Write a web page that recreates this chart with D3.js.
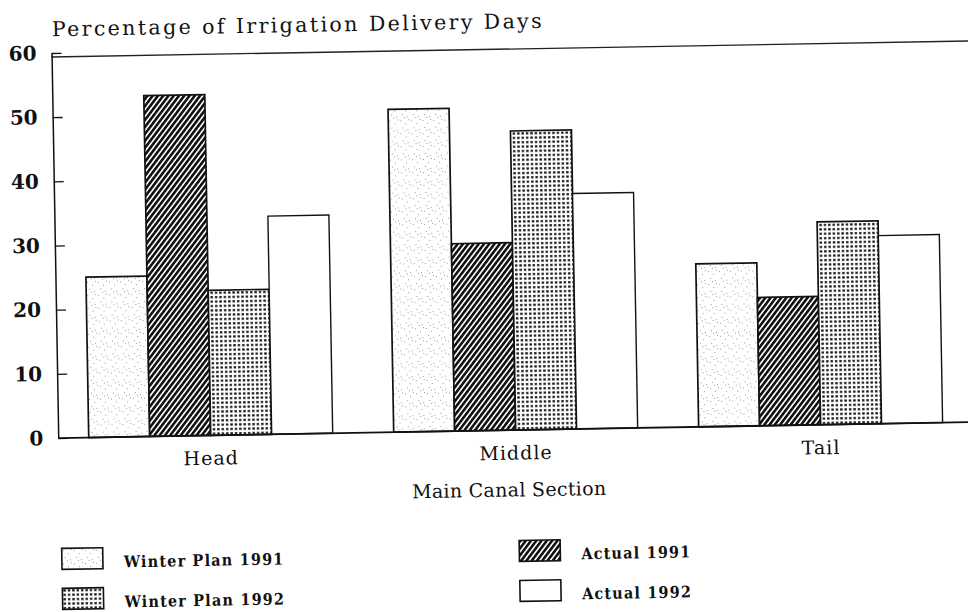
<!DOCTYPE html>
<html>
<head>
<meta charset="utf-8">
<script src="https://cdn.jsdelivr.net/npm/d3@7"></script>
<style>
    body { margin: 0; background: #fff; }
    #chart { width: 968px; height: 612px; overflow: hidden; }
</style>
</head>
<body>
<div id="chart"></div>
<script>

// values (percent of delivery days)
const sections = ["Head", "Middle", "Tail"];
const seriesNames = ["Winter Plan 1991", "Actual 1991", "Winter Plan 1992", "Actual 1992"];
const winterPlan1991 = [25.0, 50.3, 25.4];
const actual1991 = [53.1, 29.2, 20.0];
const winterPlan1992 = [22.6, 46.6, 31.6];
const actual1992 = [34.0, 36.7, 29.3];
const yTicks = [0, 10, 20, 30, 40, 50, 60];

const titleText = "Percentage of Irrigation Delivery Days";
const xTitleText = "Main Canal Section";


class deliveryChart {

    constructor(opts) {
        this.element = opts.element;
        this.series = opts.series;
        this.update();
    }

    _setDimensions() {
        this.width = 968;
        this.height = 612;

        // plot frame before the whole sheet is tilted like the scan
        this.margin = {
            top: 45.5,
            left: 56,
            right: 971,
            bottom: 430.6
        };
    }

    update() {
        this._setDimensions();
        this._setScales();
        this.draw();
    }

    _setScales() {
        this.yScale = d3.scaleLinear()
            .domain([0, 60])
            .range([this.margin.bottom, this.margin.top]);

        this.xScale = d3.scaleBand()
            .domain(sections)
            .range([this.margin.left, this.margin.right])
            .paddingInner(0.2)
            .paddingOuter(0.1);

        this.xSeries = d3.scaleBand()
            .domain(seriesNames)
            .range([0, this.xScale.bandwidth()]);

        this.yAxis = d3.axisLeft(this.yScale)
            .tickValues(yTicks)
            .tickSizeInner(-10)
            .tickSizeOuter(0)
            .tickPadding(15)
            .tickFormat(d3.format("d"));

        this.xAxis = d3.axisBottom(this.xScale)
            .tickSize(0)
            .tickPadding(16);
    }

    _addPatterns(defs) {
        // light stipple
        let stipple = defs.append("pattern")
            .attr("id", "pat-wp91")
            .attr("patternUnits", "userSpaceOnUse")
            .attr("width", 11).attr("height", 13);
        stipple.append("rect").attr("width", 11).attr("height", 13).attr("fill", "#fff");
        [[1, 2], [6, 5], [9, 1], [3, 9], [8, 11], [5, 12]].forEach(p => {
            stipple.append("rect")
                .attr("x", p[0]).attr("y", p[1])
                .attr("width", 1).attr("height", 1)
                .attr("fill", "#9a9a9a");
        });

        // dense diagonal hatch
        let hatch = defs.append("pattern")
            .attr("id", "pat-a91")
            .attr("patternUnits", "userSpaceOnUse")
            .attr("width", 4.2).attr("height", 6)
            .attr("patternTransform", "rotate(38)");
        hatch.append("rect").attr("width", 4.2).attr("height", 6).attr("fill", "#fff");
        hatch.append("rect").attr("width", 2.6).attr("height", 6).attr("fill", "#111");

        // dot grid
        let dots = defs.append("pattern")
            .attr("id", "pat-wp92")
            .attr("patternUnits", "userSpaceOnUse")
            .attr("width", 4.4).attr("height", 4.4);
        dots.append("rect").attr("width", 4.4).attr("height", 4.4).attr("fill", "#fff");
        dots.append("rect").attr("x", 1).attr("y", 1).attr("width", 2.4).attr("height", 2.2).attr("fill", "#111");

        this.fills = {
            "Winter Plan 1991": "url(#pat-wp91)",
            "Actual 1991": "url(#pat-a91)",
            "Winter Plan 1992": "url(#pat-wp92)",
            "Actual 1992": "#fff"
        };
    }

    draw() {
        this.element.innerHTML = "";

        this.svg = d3.select(this.element).append("svg")
            .attr("width", this.width)
            .attr("height", this.height);

        this._addPatterns(this.svg.append("defs"));

        // the scan sits about one degree off level
        this.plot = this.svg.append("g")
            .attr("transform", "rotate(-1, 484, 306)");

        let serif = "'DejaVu Serif', 'Liberation Serif', serif";

        // bars
        let rows = sections.map((s, i) => ({
            section: s,
            values: seriesNames.map(n => ({ name: n, value: this.series[n][i] }))
        }));

        this.plot.selectAll("g.group")
            .data(rows)
            .enter().append("g")
            .attr("class", "group")
            .attr("transform", d => `translate(${this.xScale(d.section)},0)`)
            .selectAll("rect")
            .data(d => d.values)
            .enter().append("rect")
            .attr("x", d => this.xSeries(d.name))
            .attr("y", d => this.yScale(d.value))
            .attr("width", this.xSeries.bandwidth())
            .attr("height", d => this.yScale(0) - this.yScale(d.value))
            .attr("fill", d => this.fills[d.name])
            .attr("stroke", "#111")
            .attr("stroke-width", d => d.name === "Actual 1992" ? 1.4 : 1.7);

        // top frame line (sits a little under the 60 tick on the scan) and base line
        this.plot.append("line")
            .attr("x1", this.margin.left).attr("x2", this.margin.right + 10)
            .attr("y1", this.yScale(60) + 4).attr("y2", this.yScale(60) + 4)
            .attr("stroke", "#222").attr("stroke-width", 1.3);

        this.plot.append("line")
            .attr("x1", this.margin.left).attr("x2", this.margin.right + 10)
            .attr("y1", this.yScale(0)).attr("y2", this.yScale(0))
            .attr("stroke", "#111").attr("stroke-width", 1.8);

        // y axis
        let yG = this.plot.append("g")
            .attr("transform", `translate(${this.margin.left},0)`)
            .call(this.yAxis);
        yG.select(".domain").attr("stroke", "#111").attr("stroke-width", 1.5);
        yG.selectAll(".tick line").attr("stroke", "#111").attr("stroke-width", 1.3);
        yG.selectAll(".tick text")
            .attr("fill", "#111")
            .attr("font-family", serif)
            .attr("font-weight", "bold")
            .attr("font-size", 20);

        // section labels
        let xG = this.plot.append("g")
            .attr("transform", `translate(0,${this.yScale(0)})`)
            .call(this.xAxis);
        xG.select(".domain").remove();
        xG.selectAll(".tick text")
            .attr("fill", "#111")
            .attr("font-family", serif)
            .attr("font-size", 19)
            .attr("letter-spacing", 1);

        // titles
        this.plot.append("text")
            .attr("x", 56.7)
            .attr("y", 28.8)
            .attr("fill", "#111")
            .attr("font-family", serif)
            .attr("font-size", 20.5)
            .attr("textLength", 490)
            .attr("lengthAdjust", "spacing")
            .text(titleText);

        this.plot.append("text")
            .attr("x", 506)
            .attr("y", 497)
            .attr("text-anchor", "middle")
            .attr("fill", "#111")
            .attr("font-family", serif)
            .attr("font-size", 19)
            .attr("letter-spacing", 0.3)
            .text(xTitleText);

        // legend: two columns, two rows
        let legendOrder = ["Winter Plan 1991", "Winter Plan 1992", "Actual 1991", "Actual 1992"];
        let legend = this.plot.append("g").attr("class", "legend");

        let item = legend.selectAll("g")
            .data(legendOrder)
            .enter().append("g")
            .attr("transform", (d, i) => {
                let col = Math.floor(i / 2), row = i % 2;
                return `translate(${col === 0 ? 57.5 : 515},${541 + row * 40})`;
            });

        item.append("rect")
            .attr("width", 41)
            .attr("height", 21)
            .attr("fill", d => this.fills[d])
            .attr("stroke", "#111")
            .attr("stroke-width", 1.6);

        item.append("text")
            .attr("x", 62)
            .attr("y", 20)
            .attr("fill", "#111")
            .attr("font-family", "'DejaVu Serif Condensed', 'Liberation Sans Narrow', sans-serif")
            .attr("font-weight", "bold")
            .attr("font-size", 16)
            .attr("letter-spacing", 1.2)
            .text(d => d);
    }
}

new deliveryChart({
    element: document.getElementById("chart"),
    series: {
        "Winter Plan 1991": winterPlan1991,
        "Actual 1991": actual1991,
        "Winter Plan 1992": winterPlan1992,
        "Actual 1992": actual1992
    }
});

</script>
</body>
</html>
